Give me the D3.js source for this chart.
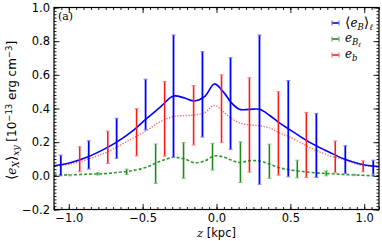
<!DOCTYPE html>
<html>
<head>
<meta charset="utf-8">
<script src="https://cdn.jsdelivr.net/npm/d3@7"></script>
<style>
  body { margin: 0; background: #fff; }
  svg { display: block; }
  .tick text { font-family: "DejaVu Sans", sans-serif; font-size: 11.5px; fill: #000; }
  .serif { font-family: "DejaVu Serif", serif; }
  .sans { font-family: "DejaVu Sans", sans-serif; }
</style>
</head>
<body>
<div id="container"></div>
<script>
/* CONSTANTS */
const width = 382,
  height = 241,
  margin = { top: 7.5, bottom: 31.5, left: 54, right: 3 }

/* DATA */
// smooth profiles
const lineZ = [-1.10, -0.99, -0.865, -0.757, -0.676, -0.574, -0.48, -0.385, -0.291, -0.216, -0.149, -0.081, -0.014,
  0.054, 0.095, 0.155, 0.223, 0.291, 0.358, 0.426, 0.493, 0.628, 0.764, 0.865, 0.966, 1.054, 1.10]
const eBl = [0.060, 0.078, 0.115, 0.160, 0.200, 0.262, 0.335, 0.405, 0.474, 0.462, 0.445, 0.470, 0.546,
  0.490, 0.440, 0.395, 0.395, 0.395, 0.360, 0.315, 0.276, 0.200, 0.140, 0.100, 0.072, 0.058, 0.054]
const eb = [0.056, 0.070, 0.100, 0.135, 0.170, 0.220, 0.265, 0.320, 0.352, 0.358, 0.362, 0.375, 0.418,
  0.375, 0.345, 0.315, 0.302, 0.298, 0.285, 0.255, 0.232, 0.170, 0.120, 0.095, 0.065, 0.055, 0.053]
const eBlocal = [0.004, 0.006, 0.010, 0.013, 0.020, 0.030, 0.050, 0.085, 0.110, 0.100, 0.078, 0.088, 0.118,
  0.110, 0.095, 0.079, 0.090, 0.088, 0.070, 0.048, 0.036, 0.021, 0.013, 0.008, 0.004, 0.001, 0.000]

// error bars [z, low, high]
const barsBlue = [
  [-1.054, 0.000, 0.123], [-0.865, 0.040, 0.208], [-0.676, 0.104, 0.342], [-0.480, 0.272, 0.574],
  [-0.291, 0.110, 0.837], [-0.095, 0.230, 0.738], [0.095, 0.157, 0.702], [0.291, -0.050, 0.837],
  [0.486, -0.006, 0.566], [0.676, -0.010, 0.371], [0.872, 0.014, 0.179], [1.061, 0.010, 0.093]
]
const barsGreen = [
  [-0.993, 0.000, 0.008], [-0.804, 0.005, 0.018], [-0.608, 0.008, 0.040], [-0.412, -0.045, 0.189],
  [-0.223, -0.015, 0.197], [-0.027, 0.034, 0.193], [0.162, -0.040, 0.202], [0.358, -0.015, 0.188],
  [0.547, -0.012, 0.093], [0.743, 0.000, 0.029], [0.932, 0.001, 0.010]
]
const barsRed = [
  [-0.926, 0.024, 0.173], [-0.736, 0.074, 0.266], [-0.541, 0.118, 0.400], [-0.351, 0.117, 0.560],
  [-0.155, 0.183, 0.536], [0.034, 0.197, 0.600], [0.223, 0.022, 0.583], [0.419, 0.004, 0.500],
  [0.608, -0.010, 0.377], [0.804, 0.018, 0.207], [0.993, 0.024, 0.089]
]

const xTicks = [-1.0, -0.5, 0.0, 0.5, 1.0]
const yTicks = [-0.2, 0.0, 0.2, 0.4, 0.6, 0.8, 1.0]

/* SCALES */
const xScale = d3.scaleLinear().domain([-1.1, 1.1]).range([margin.left, width - margin.right])
const yScale = d3.scaleLinear().domain([-0.2, 1.0]).range([height - margin.bottom, margin.top])

const svg = d3.select("#container").append("svg")
  .attr("width", width)
  .attr("height", height)

const plot = svg.append("g")

// clip so the lines stay inside the frame
svg.append("clipPath").attr("id", "clip").append("rect")
  .attr("x", margin.left).attr("y", margin.top)
  .attr("width", width - margin.left - margin.right)
  .attr("height", height - margin.top - margin.bottom)

const inner = plot.append("g").attr("clip-path", "url(#clip)")

/* LINES */
const line = d3.line()
  .x(d => xScale(d[0]))
  .y(d => yScale(d[1]))
  .curve(d3.curveCatmullRom.alpha(0.5))

inner.append("path")
  .datum(lineZ.map((z, i) => [z, eBlocal[i]]))
  .attr("d", line).attr("fill", "none")
  .attr("stroke", "#2a9a2a").attr("stroke-width", 1.6).attr("stroke-dasharray", "3,2")

inner.append("path")
  .datum(lineZ.map((z, i) => [z, eb[i]]))
  .attr("d", line).attr("fill", "none")
  .attr("stroke", "#ff6a6a").attr("stroke-width", 1.4).attr("stroke-dasharray", "1.3,1.5")

inner.append("path")
  .datum(lineZ.map((z, i) => [z, eBl[i]]))
  .attr("d", line).attr("fill", "none")
  .attr("stroke", "#0000ff").attr("stroke-width", 1.6)

/* ERROR BARS */
function drawBars(data, color, capColor, w) {
  const g = inner.append("g")
  data.forEach(d => {
    const x = xScale(d[0])
    g.append("line").attr("x1", x).attr("x2", x)
      .attr("y1", yScale(d[1])).attr("y2", yScale(d[2]))
      .attr("stroke", color).attr("stroke-width", w)
    ;[d[1], d[2]].forEach(v => {
      g.append("line").attr("x1", x - 2).attr("x2", x + 2)
        .attr("y1", yScale(v)).attr("y2", yScale(v))
        .attr("stroke", capColor).attr("stroke-width", 1)
    })
  })
}
drawBars(barsRed, "#ff1a1a", "#ff8080", 1.6)
drawBars(barsGreen, "#1e8a1e", "#7ac07a", 1.6)
drawBars(barsBlue, "#0000ff", "#7f7fff", 1.8)

/* AXES */
const xMinor = d3.range(-1.1, 1.1001, 0.05).map(v => +v.toFixed(2))
const yMinor = d3.range(-0.2, 1.0001, 0.02).map(v => +v.toFixed(2))
const fmt = d3.format(".1f")
const ph = height - margin.bottom, pw = width - margin.right

svg.append("g").attr("transform", `translate(0,${ph})`)
  .call(d3.axisBottom(xScale).tickValues(xMinor).tickSize(-2.5).tickFormat(""))
svg.append("g").attr("transform", `translate(0,${ph})`)
  .call(d3.axisBottom(xScale).tickValues(xTicks).tickSize(-5.5).tickPadding(4).tickFormat(fmt))
svg.append("g").attr("transform", `translate(0,${margin.top})`)
  .call(d3.axisTop(xScale).tickValues(xMinor).tickSize(-2.5).tickFormat(""))
svg.append("g").attr("transform", `translate(0,${margin.top})`)
  .call(d3.axisTop(xScale).tickValues(xTicks).tickSize(-5.5).tickFormat(""))

svg.append("g").attr("transform", `translate(${margin.left},0)`)
  .call(d3.axisLeft(yScale).tickValues(yMinor).tickSize(-2.5).tickFormat(""))
svg.append("g").attr("transform", `translate(${margin.left},0)`)
  .call(d3.axisLeft(yScale).tickValues(yTicks).tickSize(-5.5).tickPadding(4).tickFormat(fmt))
svg.append("g").attr("transform", `translate(${pw},0)`)
  .call(d3.axisRight(yScale).tickValues(yMinor).tickSize(-2.5).tickFormat(""))
svg.append("g").attr("transform", `translate(${pw},0)`)
  .call(d3.axisRight(yScale).tickValues(yTicks).tickSize(-5.5).tickFormat(""))

svg.selectAll(".domain").remove()
svg.selectAll(".tick line").attr("stroke", "#000").attr("stroke-width", 0.9)

svg.append("rect")
  .attr("x", margin.left).attr("y", margin.top)
  .attr("width", pw - margin.left).attr("height", ph - margin.top)
  .attr("fill", "none").attr("stroke", "#000").attr("stroke-width", 1.2)

/* LABELS */
svg.append("text").attr("class", "serif")
  .attr("x", 58).attr("y", 20).attr("font-size", 11).text("(a)")

// x label
const xl = svg.append("text").attr("x", xScale(0)).attr("y", 237)
  .attr("text-anchor", "middle").attr("font-size", 11.5)
xl.append("tspan").attr("class", "serif").attr("font-style", "italic").text("z")
xl.append("tspan").attr("class", "sans").text(" [kpc]")

// y label
const yl = svg.append("text")
  .attr("transform", `translate(16,${(margin.top + ph) / 2 + 2}) rotate(-90)`)
  .attr("text-anchor", "middle").attr("font-size", 12)
yl.append("tspan").attr("class", "serif").attr("font-size", 14).text("⟨")
yl.append("tspan").attr("class", "serif").attr("font-style", "italic").text("e")
yl.append("tspan").attr("class", "serif").attr("font-style", "italic").attr("font-size", 9).attr("dy", 2.5).text("X")
yl.append("tspan").attr("class", "serif").attr("font-size", 14).attr("dy", -2.5).text("⟩")
yl.append("tspan").attr("class", "serif").attr("font-style", "italic").attr("font-size", 9).attr("dy", 3).text("xy")
yl.append("tspan").attr("class", "sans").attr("dy", -3).text(" [10")
yl.append("tspan").attr("class", "sans").attr("font-size", 8.5).attr("dy", -4.5).text("−13")
yl.append("tspan").attr("class", "sans").attr("dy", 4.5).text(" erg cm")
yl.append("tspan").attr("class", "sans").attr("font-size", 8.5).attr("dy", -4.5).text("−3")
yl.append("tspan").attr("class", "sans").attr("dy", 4.5).text("]")

/* LEGEND */
const legendItems = [
  { color: "#0000ff", cap: "#6f6fff", y: 23 },
  { color: "#1e8a1e", cap: "#6ab06a", y: 39 },
  { color: "#ff1a1a", cap: "#ff7070", y: 55 }
]
const lg = svg.append("g")
legendItems.forEach(d => {
  lg.append("line").attr("x1", 332).attr("x2", 339).attr("y1", d.y).attr("y2", d.y)
    .attr("stroke", d.color).attr("stroke-width", 1.6)
  ;[332, 339].forEach(x => lg.append("line").attr("x1", x).attr("x2", x)
    .attr("y1", d.y - 2.5).attr("y2", d.y + 2.5).attr("stroke", d.cap).attr("stroke-width", 1.2))
})
const t1 = lg.append("text").attr("class", "serif").attr("x", 345).attr("y", 27).attr("font-size", 12)
t1.append("tspan").attr("font-size", 14).text("⟨")
t1.append("tspan").attr("font-style", "italic").text("e")
t1.append("tspan").attr("font-style", "italic").attr("font-size", 8.5).attr("dy", 2.5).text("B")
t1.append("tspan").attr("font-size", 14).attr("dy", -2.5).text("⟩")
t1.append("tspan").attr("font-style", "italic").attr("font-size", 8.5).attr("dy", 3).text("ℓ")

const t2 = lg.append("text").attr("class", "serif").attr("x", 345).attr("y", 42).attr("font-size", 12)
t2.append("tspan").attr("font-style", "italic").text("e")
t2.append("tspan").attr("font-style", "italic").attr("font-size", 8.5).attr("dy", 2.5).text("B")
t2.append("tspan").attr("font-style", "italic").attr("font-size", 6.5).attr("dy", 2).text("ℓ")

const t3 = lg.append("text").attr("class", "serif").attr("x", 345).attr("y", 58).attr("font-size", 12)
t3.append("tspan").attr("font-style", "italic").text("e")
t3.append("tspan").attr("font-style", "italic").attr("font-size", 8.5).attr("dy", 2.5).text("b")
</script>
</body>
</html>
